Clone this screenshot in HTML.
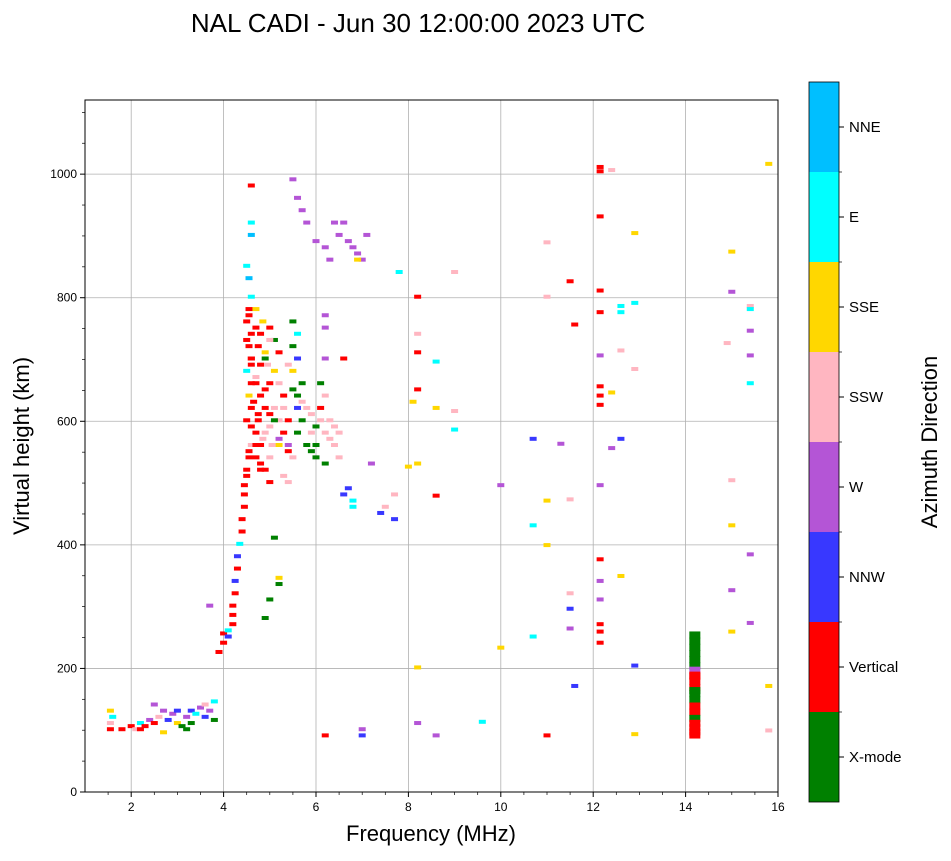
<!DOCTYPE html>
<html><head><meta charset="utf-8"><style>
body{margin:0;background:#fff;font-family:"Liberation Sans",sans-serif}
</style></head><body>
<svg id="chart" width="951" height="856" xmlns="http://www.w3.org/2000/svg" font-family="Liberation Sans, sans-serif">
<text x="418" y="32" font-size="26" text-anchor="middle">NAL CADI - Jun 30 12:00:00 2023 UTC</text>
<g id="grid"></g><g id="marks"></g><g id="axes"></g><g id="cbar"></g>
<text x="431" y="841" font-size="22" text-anchor="middle">Frequency (MHz)</text>
<text transform="translate(29,446) rotate(-90)" font-size="22" text-anchor="middle">Virtual height (km)</text>
<text transform="translate(937,442) rotate(-90)" font-size="22" text-anchor="middle">Azimuth Direction</text>
</svg>
<script>
const categories=["X-mode","Vertical","NNW","W","SSW","SSE","E","NNE"];
const catColors=["#008000","#ff0000","#3838ff","#b455d6","#ffb6c1","#ffd700","#00ffff","#00bfff"];
const xTicks=[2,4,6,8,10,12,14,16];
const yTicks=[0,200,400,600,800,1000];
const freqs=[1.55,1.55,1.6,1.55,1.8,2.0,2.1,2.2,2.3,2.4,2.5,2.5,2.6,2.7,2.8,2.9,3.0,3.0,3.1,3.2,3.3,3.3,3.4,3.5,3.6,3.7,3.8,3.8,2.2,2.7,3.2,3.6,
3.9,4.0,4.0,4.1,4.2,4.2,4.2,4.25,4.25,4.3,4.3,4.35,4.4,4.4,4.45,4.45,4.45,4.1,3.7,
4.5,4.55,4.6,4.5,4.6,4.55,4.6,4.5,4.6,4.55,4.6,4.5,4.55,4.6,4.55,4.5,4.6,4.6,4.6,4.7,4.75,4.8,4.7,4.8,4.9,4.75,4.9,4.8,5.0,4.9,5.0,4.85,5.0,5.1,5.2,5.1,5.2,5.3,5.1,5.2,5.3,5.4,5.5,5.3,5.4,5.5,5.6,5.5,5.6,5.5,5.7,5.6,5.8,5.7,5.9,6.0,5.9,6.0,6.1,6.2,6.3,6.4,6.5,6.2,6.1,6.2,6.2,6.2,6.6,5.4,5.0,5.2,4.7,4.9,4.7,
4.5,4.55,4.6,4.65,4.7,4.75,4.8,4.85,4.9,4.95,5.0,5.05,4.5,4.55,4.6,4.7,4.8,4.9,5.0,5.1,5.3,5.4,5.5,5.6,5.7,5.8,5.9,6.0,6.1,6.3,6.4,6.5,5.2,5.4,5.6,4.6,4.7,4.8,5.0,6.2,
5.5,5.6,5.7,5.8,6.0,6.2,6.3,6.5,6.7,6.8,6.9,7.0,7.1,6.6,6.9,6.4,
5.2,5.2,5.1,4.9,5.0,6.7,6.8,6.6,6.8,7.2,7.4,7.7,7.5,7.7,6.2,7.0,7.0,
7.8,8.2,8.2,8.2,8.2,8.1,8.6,8.6,9.0,9.0,8.6,8.2,8.0,8.2,8.2,8.6,9.0,9.6,10.0,10.0,10.7,10.7,10.7,11.0,11.0,11.0,11.0,11.0,11.3,11.5,11.6,11.5,11.5,11.5,11.5,11.6,
12.15,12.15,12.15,12.15,12.15,12.15,12.15,12.15,12.15,12.15,12.15,12.15,12.15,12.15,12.15,12.15,12.4,12.4,12.4,12.6,12.6,12.6,12.6,12.6,12.9,12.9,12.9,12.9,12.9,
14.2,14.2,14.2,14.2,14.2,14.2,14.2,14.2,14.2,14.2,14.2,14.2,14.2,14.2,14.2,14.2,14.2,14.2,14.2,14.2,14.2,
15.0,15.0,14.9,15.0,15.0,15.0,15.0,15.4,15.4,15.4,15.4,15.4,15.4,15.4,15.8,15.8,15.8];
const heights=[100,110,120,130,100,105,100,110,105,115,110,140,120,130,115,125,130,110,105,120,130,110,125,135,120,130,145,115,100,95,100,140,
225,240,255,260,270,285,300,320,340,360,380,400,420,440,460,480,495,250,300,
520,540,560,600,620,640,660,680,700,720,740,760,780,800,830,850,900,920,980,750,720,690,660,640,620,600,580,560,540,520,500,760,750,730,710,680,660,640,620,600,580,560,540,510,500,760,740,720,700,680,660,640,620,600,580,560,550,540,600,580,570,560,540,640,660,700,770,750,700,600,590,560,540,700,580,
510,550,590,630,670,610,530,570,650,690,610,560,730,770,700,780,740,710,660,600,620,690,650,580,630,560,610,590,620,600,590,580,570,550,620,690,560,520,730,530,
990,960,940,920,890,880,860,900,890,880,870,860,900,920,860,920,
345,335,410,280,310,490,470,480,460,530,450,440,460,480,90,100,90,
840,800,740,710,650,630,620,695,615,585,478,530,525,200,110,90,840,112,495,232,570,430,250,888,800,470,398,90,562,825,755,472,320,295,263,170,
1010,1003,930,810,775,705,655,640,625,495,375,340,310,270,258,240,1005,555,645,785,775,713,570,348,903,790,683,203,92,
255,245,235,225,215,205,198,190,180,170,160,150,140,130,120,112,105,98,93,188,165,
873,808,725,503,430,325,258,785,780,745,705,660,383,272,1015,170,98];
const modes=[1,4,6,5,1,1,4,6,1,3,1,3,4,3,2,3,2,5,0,3,2,0,6,3,2,3,6,0,1,5,0,4,
1,1,1,6,1,1,1,1,2,1,2,6,1,1,1,1,1,2,3,
1,1,4,1,1,5,1,6,1,1,1,1,1,6,7,6,7,6,1,1,1,1,1,1,1,1,4,1,4,1,1,5,1,0,1,5,4,1,4,4,1,3,4,4,4,0,6,0,2,5,0,0,4,0,4,0,0,0,4,4,4,4,4,4,0,3,3,3,1,1,4,5,1,0,1,
1,1,1,1,4,1,1,4,1,4,1,4,1,1,1,5,1,5,1,0,4,4,0,0,4,0,4,0,1,4,4,4,3,1,2,1,1,1,4,0,
3,3,3,3,3,3,3,3,3,3,3,3,3,3,5,3,
5,0,0,0,0,2,6,2,6,3,2,2,4,4,1,3,2,
6,1,4,1,1,5,5,6,4,6,1,5,5,5,3,3,4,6,3,5,2,6,6,4,4,5,5,1,3,1,1,4,4,2,3,2,
1,1,1,1,1,3,1,1,1,3,1,3,3,1,1,1,4,3,5,6,6,4,2,5,5,6,4,2,5,
0,0,0,0,0,0,3,1,1,1,0,0,1,1,0,1,1,1,1,1,0,
5,3,4,4,5,3,5,4,6,3,3,6,3,3,5,5,4];
const NS="http://www.w3.org/2000/svg";
const L=85,R=778,T=100,B=792;
const xs=f=>L+(f-1)/15*(R-L);
const ys=h=>B-h/1120*(B-T);
function mk(tag,attrs,parent){const e=document.createElementNS(NS,tag);for(const k in attrs)e.setAttribute(k,attrs[k]);parent.appendChild(e);return e;}
const grid=document.getElementById('grid'),marks=document.getElementById('marks'),axes=document.getElementById('axes'),cbar=document.getElementById('cbar');
xTicks.forEach(t=>{const g=mk('line',{x1:xs(t),x2:xs(t),y1:T,y2:B,stroke:'#b0b0b0','stroke-width':0.8},grid);


mk('line',{x1:xs(t),x2:xs(t),y1:B,y2:B+5,stroke:'#000'},axes);
const tx=mk('text',{x:xs(t),y:B+19,'font-size':12,'text-anchor':'middle'},axes);tx.textContent=t;

});
for(let m=1.5;m<16;m+=0.5){if(m%2!==0)mk('line',{x1:xs(m),x2:xs(m),y1:B,y2:B+3,stroke:'#000','stroke-width':0.7},axes);}
yTicks.forEach(t=>{const g=mk('line',{x1:L,x2:R,y1:ys(t),y2:ys(t),stroke:'#b0b0b0','stroke-width':0.8},grid);


mk('line',{x1:L-5,x2:L,y1:ys(t),y2:ys(t),stroke:'#000'},axes);
const tx=mk('text',{x:L-8,y:ys(t)+4,'font-size':12,'text-anchor':'end'},axes);tx.textContent=t;

});
for(let m=50;m<1120;m+=50){if(m%200!==0)mk('line',{x1:L-3,x2:L,y1:ys(m),y2:ys(m),stroke:'#000','stroke-width':0.7},axes);}
const fr=mk('rect',{x:L,y:T,width:R-L,height:B-T,fill:'none',stroke:'#000','stroke-width':1},axes);


for(let i=0;i<freqs.length;i++){const big=(freqs[i]>=14&&freqs[i]<14.5);const w=big?11:7;
const r=mk('rect',{x:xs(freqs[i])-w/2,y:ys(heights[i])-3,width:w,height:big?7:4,fill:catColors[modes[i]]},marks);

}
const CT=82,CB=802,CL=809,CW=30,ch=(CB-CT)/categories.length;
categories.forEach((c,i)=>{const y=CB-(i+1)*ch;
const r=mk('rect',{x:CL,y:y,width:CW,height:ch,fill:catColors[i]},cbar);


mk('line',{x1:CL+CW,x2:CL+CW+5,y1:y+ch/2,y2:y+ch/2,stroke:'#000'},cbar);
if(i>0)mk('line',{x1:CL+CW,x2:CL+CW+3,y1:CB-i*ch,y2:CB-i*ch,stroke:'#000','stroke-width':0.7},cbar);
const t=mk('text',{x:CL+CW+10,y:y+ch/2+5,'font-size':15},cbar);t.textContent=c;

});
const cf=mk('rect',{x:CL,y:CT,width:CW,height:CB-CT,fill:'none',stroke:'#000','stroke-width':0.8},cbar);


</script>
</body></html>
